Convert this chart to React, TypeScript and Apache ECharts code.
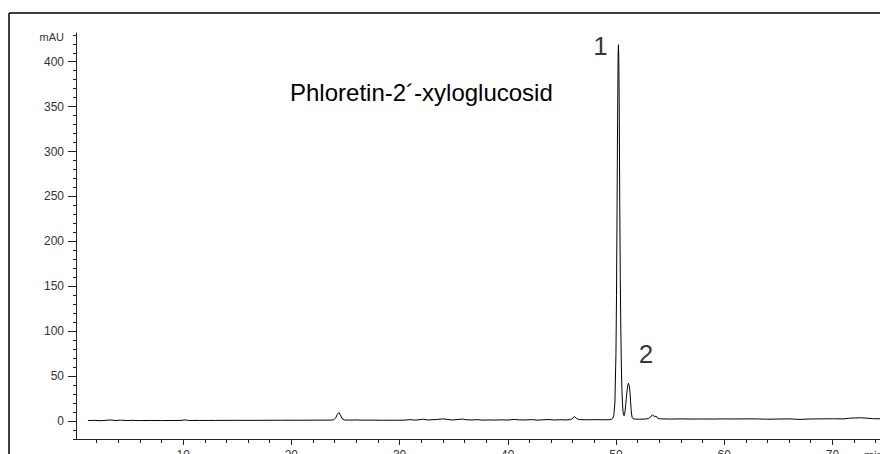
import React, { useEffect, useRef } from "react";
import * as echarts from "echarts";

// Retention time (min) and absorbance (mAU)
const times: number[] = [
  1.2, 1.8, 2.4, 3.0, 3.3, 3.7, 4.2, 4.8, 5.3, 6.0, 7.0, 8.0, 9.0, 9.8, 10.2, 10.5, 11.5, 13, 15, 17, 19, 21, 22.5, 23.5,
  23.9, 24.1, 24.25, 24.4, 24.55, 24.7, 24.9, 25.3, 26, 26.5, 27.5, 28.5, 29.5, 30.5, 31.0, 31.4, 31.8, 32.2, 32.6,
  33.0, 33.5, 34.0, 34.4, 34.9, 35.3, 35.8, 36.2, 36.8, 37.2, 37.6, 38.2, 38.8, 39.5, 40.0, 40.6, 41.0, 41.6, 42.2,
  42.7, 43.2, 43.8, 44.3, 44.8, 45.3, 45.8, 46.0, 46.15, 46.35, 46.6, 47.2, 48, 48.8, 49.4, 49.6,
  49.7, 49.8, 49.9, 50.0, 50.05, 50.1, 50.15, 50.2, 50.23, 50.26, 50.3, 50.35, 50.4, 50.45, 50.5, 50.55, 50.6, 50.65,
  50.7, 50.75, 50.8, 50.85, 50.9, 50.95, 51.0, 51.05, 51.1, 51.15, 51.2, 51.25, 51.3, 51.35, 51.4, 51.45, 51.5, 51.6,
  51.8, 52.2, 52.7, 53.0, 53.2, 53.38, 53.55, 53.7, 53.85, 54.1, 55, 56, 57, 58, 59, 60, 61, 62, 63, 64, 65, 66, 67,
  68, 69, 70, 71, 71.5, 72, 72.6, 73.2, 73.7, 74.4,
];
const absorbance: number[] = [
  0.5, 0.8, 0.4, 0.9, 1.2, 0.6, 1.0, 0.5, 0.8, 0.5, 0.6, 0.5, 0.6, 0.7, 1.3, 0.6, 0.7, 0.7, 0.8, 0.8, 0.9, 0.9, 1.0, 1.0,
  1.3, 3.5, 7.5, 9.5, 6.5, 2.5, 1.2, 1.0, 1.2, 1.0, 1.0, 0.9, 0.9, 1.0, 1.6, 1.0, 1.4, 2.0, 1.2,
  1.4, 1.8, 2.4, 1.8, 1.2, 1.6, 2.2, 1.4, 1.2, 1.6, 1.0, 1.2, 1.1, 1.3, 1.1, 1.8, 1.3, 1.2, 1.6,
  1.0, 1.3, 1.7, 1.1, 1.5, 1.2, 1.6, 3.0, 5.0, 3.0, 1.6, 1.4, 1.5, 1.4, 1.5, 2.0,
  3, 6, 20, 75, 140, 235, 335, 410, 419, 405, 355, 240, 160, 100, 60, 35, 20, 11,
  7, 6, 8, 12, 18, 25, 31, 36, 40, 42, 41.5, 38, 31, 22, 13, 7, 4, 2.3,
  2.2, 2.0, 2.2, 2.8, 4.5, 7, 4.8, 5.5, 3.2, 2.4, 2.2, 2.4, 2.2, 2.3, 2.2, 2.4, 2.3, 2.4, 2.4, 2.0, 2.2, 2.4, 1.8,
  2.3, 2.4, 2.5, 2.4, 3.0, 3.4, 3.6, 3.2, 2.6, 2.5,
];

const xMajorTicks: number[] = [10, 20, 30, 40, 50, 60, 70];
const xMinorTicks: number[] = [2, 4, 6, 8, 12, 14, 16, 18, 22, 24, 26, 28, 32, 34, 36, 38, 42, 44, 46, 48, 52, 54, 56, 58, 62, 64, 66, 68, 72, 74];
const yMajorTicks: number[] = [0, 50, 100, 150, 200, 250, 300, 350, 400];
const yMinorTicks: number[] = [-20, -10, 0, 10, 20, 30, 40, 50, 60, 70, 80, 90, 100, 110, 120, 130, 140, 150, 160, 170, 180, 190, 200, 210, 220, 230, 240, 250, 260, 270, 280, 290, 300, 310, 320, 330, 340, 350, 360, 370, 380, 390, 400, 410, 420, 430];

const title = "Phloretin-2´-xyloglucosid";
const peakNames: string[] = ["1", "2"];
const peakTimes: number[] = [50.23, 51.2];
const peakHeights: number[] = [419, 42];

const FONT = "'Liberation Sans', Arial, sans-serif";
const AXIS = "#222";
const LABEL = "#333";

export default function App() {
  const ref = useRef<HTMLDivElement>(null);
  useEffect(() => {
    if (!ref.current) return;
    const chart = echarts.init(ref.current, undefined, { renderer: "svg" });
    const xMin = 0.1, xMax = 74.4, yMin = -20, yMax = 432;
    const common = { min: xMin, max: xMax, type: "value" as const, splitLine: { show: false } };
    const labelOffsets = [[-18, 1], [17, -29]];
    chart.setOption({
      animation: false,
      backgroundColor: "#fff",
      grid: { left: 76, right: 0, top: 33, bottom: 15, containLabel: false, outerBoundsMode: "none" },
      xAxis: [
        {
          ...common,
          axisLine: { show: true, onZero: false, lineStyle: { color: AXIS, width: 1 } },
          axisTick: { show: true, inside: false, length: 6, customValues: xMajorTicks, lineStyle: { color: AXIS } },
          axisLabel: { show: true, customValues: xMajorTicks, margin: 10, fontSize: 12, color: LABEL, fontFamily: FONT },
        },
        {
          ...common,
          position: "bottom",
          axisLine: { show: false, onZero: false },
          axisTick: { show: true, length: 4, customValues: xMinorTicks, lineStyle: { color: AXIS } },
          axisLabel: { show: false },
        },
      ],
      yAxis: [
        {
          type: "value",
          min: yMin,
          max: yMax,
          splitLine: { show: false },
          axisLine: { show: true, onZero: false, lineStyle: { color: AXIS, width: 1 } },
          axisTick: { show: true, length: 8, customValues: yMajorTicks, lineStyle: { color: AXIS } },
          axisLabel: { show: true, customValues: yMajorTicks, margin: 12, fontSize: 12, color: LABEL, fontFamily: FONT },
        },
        {
          type: "value",
          min: yMin,
          max: yMax,
          position: "left",
          splitLine: { show: false },
          axisLine: { show: false, onZero: false },
          axisTick: { show: true, length: 3, customValues: yMinorTicks, lineStyle: { color: AXIS } },
          axisLabel: { show: false },
        },
      ],
      series: [
        {
          type: "line",
          xAxisIndex: 0,
          yAxisIndex: 0,
          data: times.map((t, i) => [t, absorbance[i]]),
          showSymbol: false,
          symbol: "none",
          smooth: false,
          lineStyle: { color: "#000", width: 1 },
          silent: true,
        },
        {
          type: "scatter",
          xAxisIndex: 0,
          yAxisIndex: 0,
          symbolSize: 0,
          silent: true,
          data: peakNames.map((n, i) => ({
            value: [peakTimes[i], peakHeights[i]],
            name: n,
            label: { offset: labelOffsets[i] },
          })),
          label: {
            show: true,
            formatter: (p: any) => p.name,
            position: "inside",
            fontSize: 26,
            color: "#000",
            fontFamily: FONT,
          },
        },
      ],
      graphic: [
        { type: "line", shape: { x1: 9, y1: 13, x2: 880, y2: 13 }, style: { stroke: "#000", lineWidth: 1.5 } },
        { type: "line", shape: { x1: 9, y1: 13, x2: 9, y2: 454 }, style: { stroke: "#000", lineWidth: 1.5 } },
        { type: "text", x: 64, y: 37, style: { text: "mAU", fontSize: 11, fill: LABEL, fontFamily: FONT, align: "right", verticalAlign: "middle" } },
        { type: "text", x: 290, y: 92, style: { text: title, fontSize: 24, fill: "#000", fontFamily: FONT, align: "left", verticalAlign: "middle" } },
        { type: "text", x: 864, y: 456, style: { text: "min", fontSize: 12, fill: LABEL, fontFamily: FONT, align: "left", verticalAlign: "middle" } },
      ],
    });
    return () => chart.dispose();
  }, []);
  return <div ref={ref} style={{ position: "fixed", left: 0, top: 0, width: 880, height: 454 }} />;
}
